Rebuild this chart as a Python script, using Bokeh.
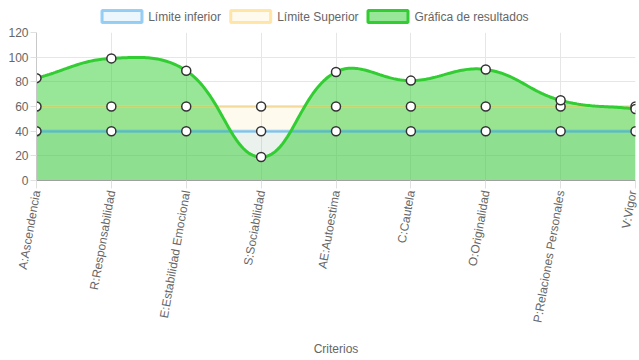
import numpy as np
from bokeh.plotting import figure
from bokeh.layouts import column
from bokeh.models import Range1d, FixedTicker
from bokeh.core.properties import value
from bokeh.embed import file_html
from bokeh.resources import INLINE

criterios = ["A:Ascendencia", "R:Responsabilidad", "E:Estabilidad Emocional", "S:Sociabilidad",
             "AE:Autoestima", "C:Cautela", "O:Originalidad", "P:Relaciones Personales", "V:Vigor"]
resultados = [83, 99, 89, 19, 88, 81, 90, 65, 58]
limite_inferior = [40, 40, 40, 40, 40, 40, 40, 40, 40]
limite_superior = [60, 60, 60, 60, 60, 60, 60, 60, 60]
y_ticks = [0, 20, 40, 60, 80, 100, 120]
leyenda = ["Límite inferior", "Límite Superior", "Gráfica de resultados"]

FONT = "Liberation Sans"
TXT = "#666666"
FRAME_W, FRAME_H = 599, 148
FRAME_LEFT = 36
YMAX = 120
TOTAL_W = 639

blue = (54, 162, 235)
yellow = (255, 205, 86)
green = (50, 205, 50)

# ---------------- legend strip ----------------
# (its frame is aligned with the chart frame by the column layout, so the x range
#  is expressed in page pixels over the frame span)
LEG_H = 24
leg = figure(width=TOTAL_W, height=LEG_H, output_backend="svg", toolbar_location=None,
             x_range=Range1d(FRAME_LEFT, FRAME_LEFT + FRAME_W), y_range=Range1d(0, LEG_H),
             x_axis_type=None, y_axis_type=None, min_border=0)
leg.outline_line_color = None
leg.grid.visible = False
box_left = [101.5, 230.2, 367.5]   # layout positions (px) of the legend swatches
text_left = [147.7, 276.7, 414.0]
box_fill = [(blue, 0.1), (yellow, 0.1), (green, 0.5)]
box_line = [(blue, 0.5), (yellow, 0.5), (green, 1.0)]
for bl, (fc, fa), (lc, la) in zip(box_left, box_fill, box_line):
    leg.quad(left=[bl], right=[bl + 40], bottom=[2], top=[14],
             fill_color=fc, fill_alpha=fa, line_color=lc, line_alpha=la, line_width=3)
leg.text(x=text_left, y=[8] * 3, text=leyenda, text_font=value(FONT), text_font_size="12px",
         text_color=TXT, text_baseline="middle", text_align="left")

# ---------------- main chart ----------------
p = figure(frame_width=FRAME_W, frame_height=FRAME_H, output_backend="svg", toolbar_location=None,
           x_range=Range1d(0, len(criterios) - 1), y_range=Range1d(0, YMAX),
           min_border_left=FRAME_LEFT, min_border_right=4, min_border_top=8, min_border_bottom=20)
p.outline_line_color = None


def spline(xs, ys, tension=0.4):
    """Chart.js style bezier spline through the given points (pixel-space tension)."""
    sx = FRAME_W / (len(xs) - 1)
    sy = FRAME_H / YMAX
    P = np.column_stack([np.asarray(xs, float) * sx, np.asarray(ys, float) * sy])
    n = len(P)
    c1 = np.zeros_like(P)
    c2 = np.zeros_like(P)
    for i in range(n):
        prev = P[i - 1] if i > 0 else P[i]
        nxt = P[i + 1] if i < n - 1 else P[i]
        cur = P[i]
        d01 = np.hypot(*(cur - prev))
        d12 = np.hypot(*(nxt - cur))
        tot = d01 + d12
        s01 = d01 / tot if tot else 0
        s12 = d12 / tot if tot else 0
        c1[i] = cur - tension * s01 * (nxt - prev)
        c2[i] = cur + tension * s12 * (nxt - prev)
    t = np.linspace(0, 1, 40)[:, None]
    out = []
    for i in range(n - 1):
        a, b, c, d = P[i], c2[i], c1[i + 1], P[i + 1]
        seg = (1 - t) ** 3 * a + 3 * (1 - t) ** 2 * t * b + 3 * (1 - t) * t ** 2 * c + t ** 3 * d
        out.append(seg if i == 0 else seg[1:])
    out = np.vstack(out)
    return out[:, 0] / sx, out[:, 1] / sy


xi = list(range(len(criterios)))
gx, gy = spline(xi, resultados)

# fills
p.varea(x=xi, y1=0, y2=limite_superior, fill_color=yellow, fill_alpha=0.1)
p.varea(x=xi, y1=0, y2=limite_inferior, fill_color=blue, fill_alpha=0.1)
p.varea(x=gx, y1=0, y2=gy, fill_color=green, fill_alpha=0.5)

# lines
p.line(xi, limite_inferior, line_color=blue, line_alpha=0.5, line_width=3)
p.line(xi, limite_superior, line_color=yellow, line_alpha=0.5, line_width=3)
p.line(gx, gy, line_color=green, line_width=3)

# points
for vals in (limite_inferior, limite_superior, resultados):
    p.scatter(xi, vals, size=9, fill_color="white", line_color="#333333", line_width=1.5)

# axes
p.xaxis.ticker = FixedTicker(ticks=xi)
p.xaxis.major_label_overrides = {i: c for i, c in enumerate(criterios)}
p.xaxis.major_label_orientation = float(np.deg2rad(80))
p.xaxis.axis_label = "Criterios"
p.xaxis.axis_label_standoff = 14
p.yaxis.ticker = FixedTicker(ticks=y_ticks)
for ax in (p.xaxis[0], p.yaxis[0]):
    ax.major_label_text_font = FONT
    ax.major_label_text_font_size = "12px"
    ax.major_label_text_color = TXT
    ax.axis_label_text_font = FONT
    ax.axis_label_text_font_size = "12px"
    ax.axis_label_text_color = TXT
    ax.axis_label_text_font_style = "normal"
    ax.major_tick_in = 0
    ax.major_tick_out = 8
    ax.minor_tick_line_color = None
    ax.major_tick_line_color = "#e0e0e0"
    ax.major_label_standoff = 2
p.xaxis.axis_line_color = "#a0a0a0"
p.yaxis.axis_line_color = "#c8c8c8"
p.yaxis.major_tick_out = 6
p.xgrid.ticker = FixedTicker(ticks=xi)
p.ygrid.ticker = FixedTicker(ticks=y_ticks)
p.grid.grid_line_color = "#e6e6e6"

layout = column(leg, p, spacing=0)
open("out.html", "w").write(file_html(layout, INLINE))
